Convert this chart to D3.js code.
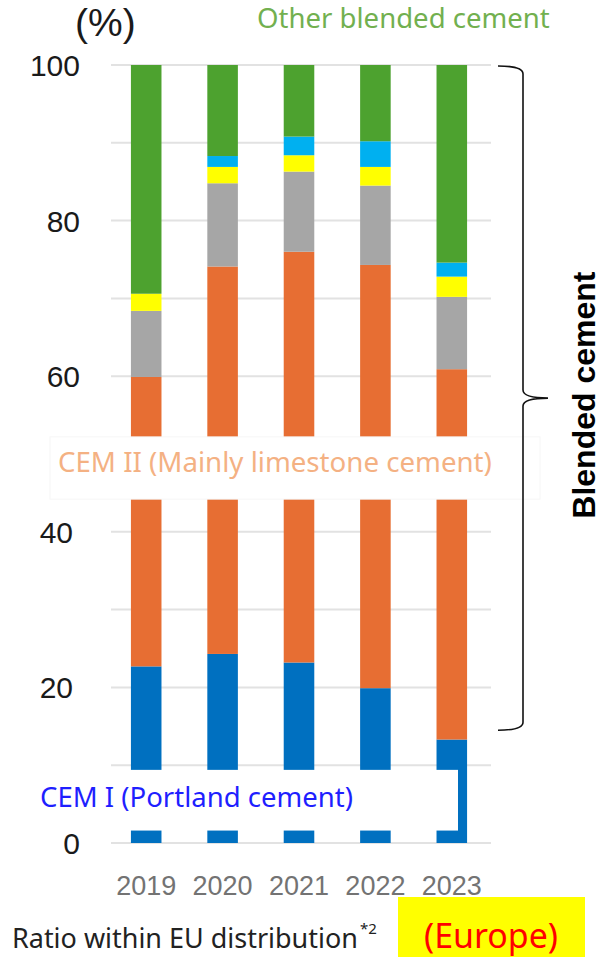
<!DOCTYPE html>
<html>
<head>
<meta charset="utf-8">
<script src="https://cdn.jsdelivr.net/npm/d3@7/dist/d3.min.js"></script>
<style>
  html, body { margin: 0; padding: 0; background: #ffffff; }
  svg { display: block; }
</style>
</head>
<body>
<div id="chart"></div>
<script>
// ---------------- data ----------------
const years = ["2019", "2020", "2021", "2022", "2023"];
const cemI        = [22.7, 24.3, 23.2, 19.9, 13.3];   // CEM I (Portland cement)
const cemII       = [37.2, 49.8, 52.8, 54.4, 47.6];   // CEM II (Mainly limestone cement)
const greyPart    = [8.5, 10.7, 10.3, 10.2, 9.3];
const yellowPart  = [2.2, 2.1, 2.1, 2.4, 2.6];
const cyanPart    = [0.0, 1.4, 2.4, 3.3, 1.8];
const otherBlend  = [29.4, 11.7, 9.2, 9.8, 25.4];     // Other blended cement
const seriesKeys  = ["cemI", "cemII", "grey", "yellow", "cyan", "other"];
const seriesColors = ["#0070c0", "#e76e33", "#a6a6a6", "#ffff00", "#00b0f0", "#4da22f"];
const yTickValues = [0, 20, 40, 60, 80, 100];
const gridValues  = [0, 10, 20, 30, 40, 50, 60, 70, 80, 90, 100];

// ---------------- setup ----------------
const W = 603, H = 957;
const svg = d3.select("#chart").append("svg").attr("width", W).attr("height", H);
svg.append("rect").attr("width", W).attr("height", H).attr("fill", "#ffffff");

const x = d3.scaleBand().domain(years).range([108, 490]).paddingInner(0.6).paddingOuter(0.3);
const y = d3.scaleLinear().domain([0, 100]).range([843, 65]);

const rows = years.map((yr, i) => ({
  year: yr, cemI: cemI[i], cemII: cemII[i], grey: greyPart[i],
  yellow: yellowPart[i], cyan: cyanPart[i], other: otherBlend[i]
}));
const stacked = d3.stack().keys(seriesKeys)(rows);

// gridlines
svg.append("g").selectAll("line").data(gridValues).join("line")
  .attr("x1", 111).attr("x2", 491)
  .attr("y1", d => y(d)).attr("y2", d => y(d))
  .attr("stroke", "#e2e2e2").attr("stroke-width", 2);

// bars
svg.append("g").selectAll("g").data(stacked).join("g")
  .attr("fill", (d, i) => seriesColors[i])
  .selectAll("rect").data(d => d).join("rect")
  .attr("x", d => x(d.data.year))
  .attr("width", x.bandwidth())
  .attr("y", d => y(d[1]))
  .attr("height", d => Math.max(0, y(d[0]) - y(d[1])));

// y axis labels
const yAxis = d3.axisLeft(y).tickValues(yTickValues).tickSize(0).tickPadding(0);
const gy = svg.append("g").attr("transform", "translate(80,0)").call(yAxis);
gy.select(".domain").remove();
gy.selectAll("text")
  .attr("font-family", "'Liberation Sans', Arial, sans-serif")
  .attr("font-size", 30).attr("fill", "#1a1a1a")
  .attr("dy", "0.35em")
  .attr("x", d => (d === 40 || d === 20) ? -7 : 0);

svg.append("text").text("(%)")
  .attr("x", 75).attr("y", 36)
  .attr("font-family", "'Liberation Sans', Arial, sans-serif")
  .attr("font-size", 39).attr("fill", "#1a1a1a");

// x axis labels
const xAxis = d3.axisBottom(x).tickSize(0).tickPadding(0);
const gx = svg.append("g").attr("transform", "translate(0,876)").call(xAxis);
gx.select(".domain").remove();
gx.selectAll("text")
  .attr("font-family", "'Liberation Sans', Arial, sans-serif")
  .attr("font-size", 27).attr("fill", "#737373")
  .attr("dy", "0.71em");

// helper: fit text to width
function fit(t, target, base) {
  t.attr("font-size", base);
  const w = t.node().getComputedTextLength();
  t.attr("font-size", base * target / w);
  return t;
}
const labelFont = "'Noto Sans', 'Open Sans', sans-serif";

// white label boxes (cut-outs in the bars)
svg.append("rect").attr("x", 50).attr("y", y(52.2)).attr("width", 490)
  .attr("height", y(44.2) - y(52.2))
  .attr("fill", "#ffffff").attr("stroke", "#f6f6f6").attr("stroke-width", 1);
svg.append("rect").attr("x", 28).attr("y", y(9.4)).attr("width", 430)
  .attr("height", y(1.6) - y(9.4))
  .attr("fill", "#ffffff");

// series labels
fit(svg.append("text").text("CEM II (Mainly limestone cement)")
  .attr("x", 58).attr("y", 472).attr("font-family", labelFont)
  .attr("fill", "#f4b183"), 434, 26);
fit(svg.append("text").text("CEM I (Portland cement)")
  .attr("x", 40).attr("y", 807).attr("font-family", labelFont)
  .attr("fill", "#1f1fff"), 313, 26);
fit(svg.append("text").text("Other blended cement")
  .attr("x", 257).attr("y", 28).attr("font-family", labelFont)
  .attr("fill", "#72b04f"), 293, 24);

// brace for blended cement
const yTop = y(100) + 1, yBot = y(14.5), yMid = (yTop + yBot) / 2;
const bx = 523;
svg.append("path")
  .attr("d", `M498,${yTop} Q${bx},${yTop} ${bx},${yTop + 8} L${bx},${yMid - 8} Q${bx},${yMid} ${bx + 25},${yMid}
              M${bx + 25},${yMid} Q${bx},${yMid} ${bx},${yMid + 8} L${bx},${yBot - 8} Q${bx},${yBot} 498,${yBot}`)
  .attr("fill", "none").attr("stroke", "#111").attr("stroke-width", 1.6);

svg.append("text").text("Blended cement")
  .attr("transform", `translate(595,${yMid - 3}) rotate(-90)`)
  .attr("text-anchor", "middle")
  .attr("font-family", "'Liberation Sans', Arial, sans-serif")
  .attr("font-weight", "bold").attr("font-size", 32).attr("fill", "#000");

// footer
const foot = svg.append("text").attr("x", 12).attr("y", 948)
  .attr("font-family", labelFont).attr("fill", "#222");
foot.text("Ratio within EU distribution");
fit(foot, 346, 22);
const footEnd = 12 + foot.node().getComputedTextLength();
svg.append("text").text("*2").attr("x", footEnd + 2).attr("y", 934)
  .attr("font-family", labelFont).attr("font-size", 15).attr("fill", "#222");

svg.append("rect").attr("x", 398).attr("y", 897).attr("width", 187).attr("height", 60)
  .attr("fill", "#ffff00");
const eu = svg.append("text").text("(Europe)").attr("x", 491).attr("y", 948)
  .attr("text-anchor", "middle").attr("font-family", labelFont).attr("fill", "#ff0000");
fit(eu, 134, 30);
</script>
</body>
</html>
